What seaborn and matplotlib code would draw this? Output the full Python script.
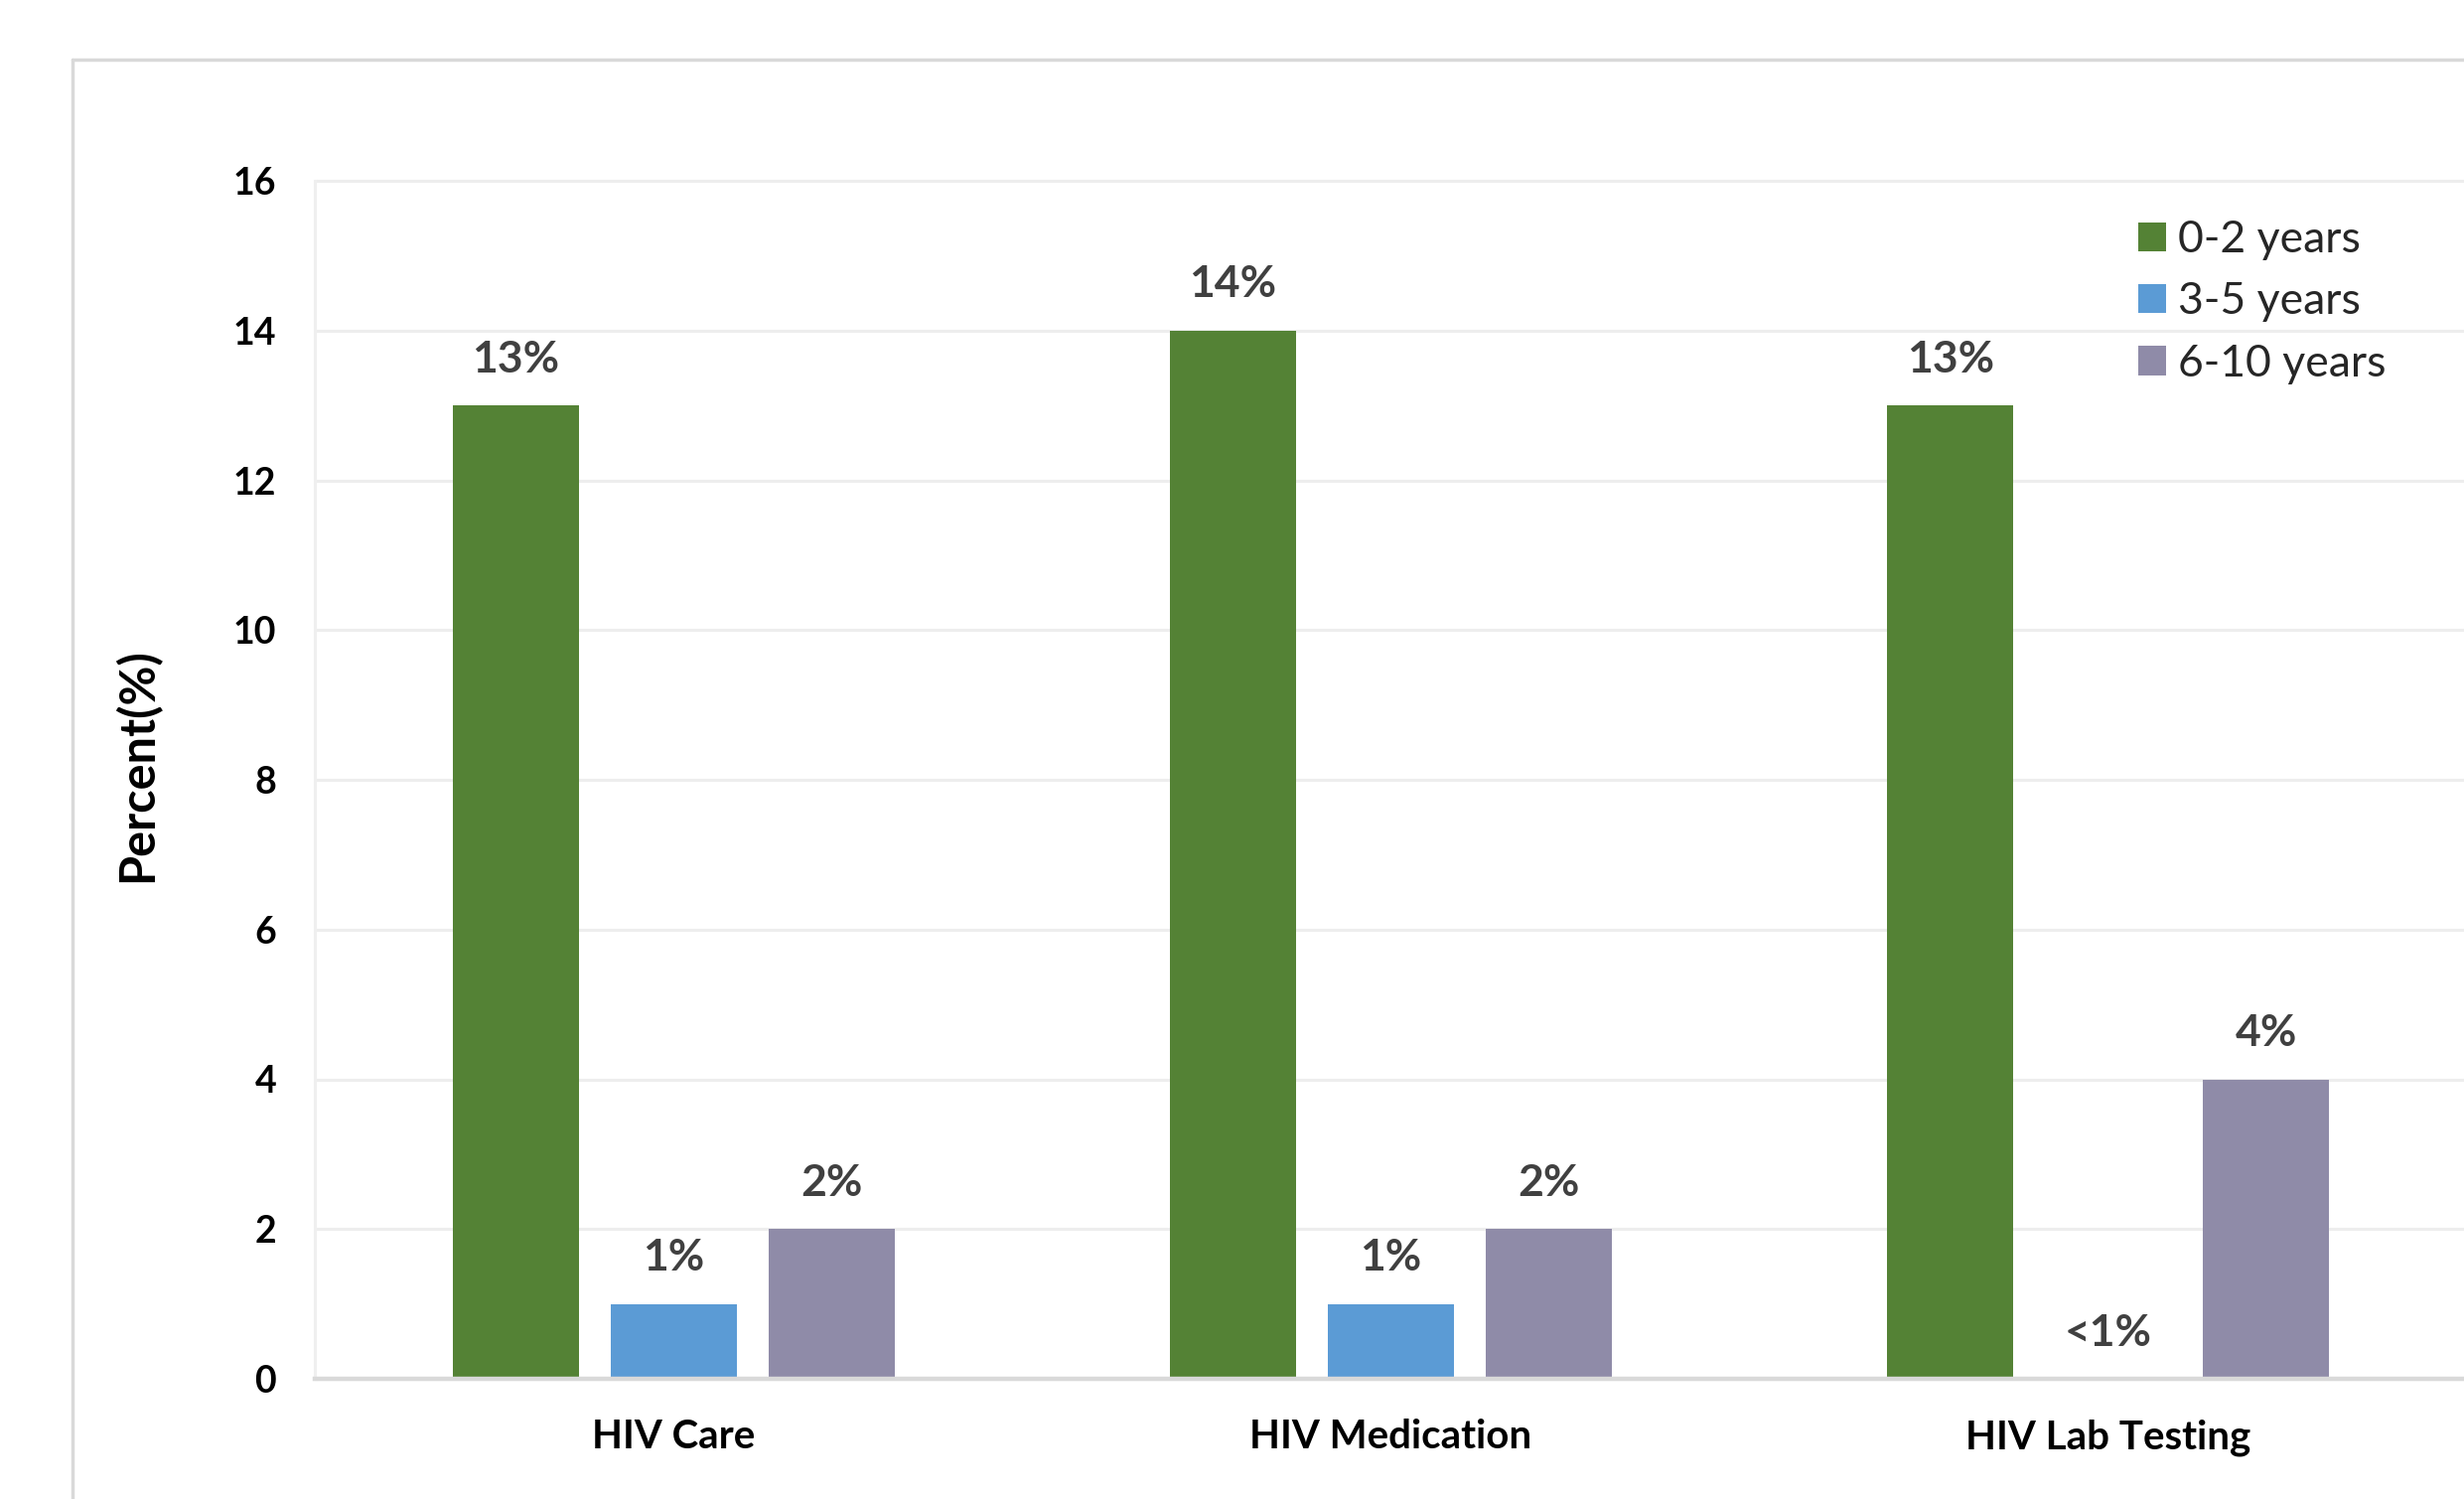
import matplotlib
matplotlib.use("Agg")
import matplotlib.pyplot as plt
from matplotlib.lines import Line2D
import seaborn as sns
import pandas as pd

# Share of respondents reporting a gap, by service and time since diagnosis
services = ["HIV Care", "HIV Medication", "HIV Lab Testing"]
age_groups = ["0-2 years", "3-5 years", "6-10 years"]
pct_0_2 = [13, 14, 13]
pct_3_5 = [1, 1, 0]
pct_6_10 = [2, 2, 4]
labels_0_2 = ["13%", "14%", "13%"]
labels_3_5 = ["1%", "1%", "<1%"]
labels_6_10 = ["2%", "2%", "4%"]
y_ticks = [0, 2, 4, 6, 8, 10, 12, 14, 16]

colors = ["#548235", "#5B9BD5", "#8F8BA8"]

df = pd.DataFrame({
    "service": services * 3,
    "group": [age_groups[0]] * 3 + [age_groups[1]] * 3 + [age_groups[2]] * 3,
    "percent": pct_0_2 + pct_3_5 + pct_6_10,
})

sns.set_style("white")
plt.rcParams["font.family"] = ["Lato", "DejaVu Sans"]

W, H = 2481, 1509
fig = plt.figure(figsize=(W / 100, H / 100), dpi=100)
ax = fig.add_axes([317 / W, 1 - 1388 / H, 2167 / W, 1206 / H])

sns.barplot(data=df, x="service", y="percent", hue="group",
            order=services, hue_order=age_groups, palette=colors,
            width=0.66, gap=0.2, saturation=1, linewidth=0, ax=ax)

ax.set_xlim(-0.5, 2.5)
ax.set_ylim(0, 16)
ax.set_yticks(y_ticks)
ax.set_yticklabels([str(t) for t in y_ticks])

# value labels above each bar
for cont, labs in zip(ax.containers, [labels_0_2, labels_3_5, labels_6_10]):
    ax.bar_label(cont, labels=labs, padding=19, fontsize=32,
                 fontweight="bold", color="#404040")

# light horizontal gridlines, grey baseline
ax.yaxis.grid(True, color="#EDEDED", linewidth=2.2)
ax.xaxis.grid(False)
ax.set_axisbelow(True)
for gl in ax.get_ygridlines():
    gl.set_clip_on(False)
for side in ["top", "right"]:
    ax.spines[side].set_visible(False)
ax.spines["left"].set_color("#EFEFEF")
ax.spines["left"].set_linewidth(2.2)
ax.spines["bottom"].set_color("#D9D9D9")
ax.spines["bottom"].set_linewidth(3.2)

ax.tick_params(axis="both", length=0)
ax.tick_params(axis="y", pad=28, labelsize=27, labelcolor="black")
ax.tick_params(axis="x", pad=29, labelsize=29, labelcolor="black")
for t in ax.get_yticklabels() + ax.get_xticklabels():
    t.set_fontweight("bold")

ax.set_xlabel("")
ax.set_ylabel("Percent(%)", fontsize=35, fontweight="bold", color="black")
ax.yaxis.set_label_coords((138 - 317) / 2167, (1388 - 770) / 1206)
ax.yaxis.label.set_va("center")

handles, labels = ax.get_legend_handles_labels()
ax.legend(handles, labels, loc="upper left",
          bbox_to_anchor=(2153 / W, 1 - 221 / H), bbox_transform=fig.transFigure,
          frameon=False, fontsize=32, handlelength=0.63, handleheight=0.63,
          handletextpad=0.28, labelspacing=0.48, borderpad=0, borderaxespad=0)

# outer chart frame
fig.add_artist(Line2D([73 / W, 73 / W], [1 - 60 / H, 0], color="#D9D9D9",
                      linewidth=2.5, transform=fig.transFigure))
fig.add_artist(Line2D([73 / W, 1], [1 - 60 / H, 1 - 60 / H], color="#D9D9D9",
                      linewidth=2.5, transform=fig.transFigure))

fig.savefig("out.png", dpi=100, facecolor="white")
